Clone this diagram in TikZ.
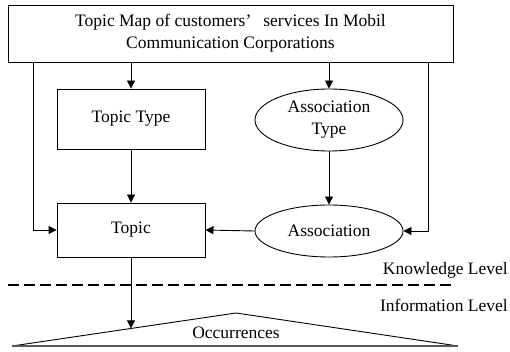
\documentclass[tikz,border=0pt]{standalone}
\usepackage{fontspec}
\setmainfont{Liberation Serif}
\usetikzlibrary{arrows.meta,shapes.geometric,calc}
\begin{document}
\begin{tikzpicture}[x=1pt,y=-1pt,
  every node/.style={font=\fontsize{17.5}{22}\selectfont},
  box/.style={draw,line width=0.9pt,inner sep=0pt},
  oval/.style={draw,ellipse,line width=0.9pt,inner sep=0pt},
  conn/.style={line width=0.9pt,-{Triangle[length=8pt,width=8pt]}},
  level/.style={anchor=east,inner sep=0pt}]
\useasboundingbox (0,0) rectangle (510,352);
% top map box
\node[box,minimum width=445pt,minimum height=57pt,align=center] (map) at (230.5,33.5)
  {Topic Map of customers’\hspace{12pt}services In Mobil\\Communication Corporations};
% types
\node[box,minimum width=148pt,minimum height=60pt] (ttype) at (131,119) {Topic Type};
\node[oval,minimum width=148pt,minimum height=62pt,align=center] (atype) at (329,120)
  {Association\\Type};
% instances
\node[box,minimum width=148pt,minimum height=54pt] (topic) at (131,230) {Topic};
\node[oval,minimum width=148pt,minimum height=52pt] (assoc) at (329,231) {Association};
% connectors
\draw[conn] (map.south -| ttype.north) -- (ttype.north);
\draw[conn] (map.south -| atype.north) -- (atype.north);
\draw[conn] (ttype) -- (topic);
\draw[conn] (atype) -- (assoc);
\draw[conn] (assoc.west) -- (topic.east);
\coordinate (lcorner) at (33,230);
\coordinate (rcorner) at (428,231);
\draw[conn] (map.south -| lcorner) -- (lcorner) -- (topic.west);
\draw[conn] (map.south -| rcorner) -- (rcorner) -- (assoc.east);
% level separator
\coordinate (sepL) at (8,285);
\coordinate (sepR) at (453,285);
\draw[line width=2.6pt,dash pattern=on 11pt off 5pt] (sepL) -- (sepR);
\node[level] (know) at (508,270) {Knowledge Level};
\node[level] (info) at (508,305) {Information Level};
% occurrences
\coordinate (tL) at (12,346);
\coordinate (tT) at (236,313);
\coordinate (tR) at (458,346);
\draw[line width=0.9pt] (tL) -- (tT) -- (tR);
\draw[line width=1.6pt,gray!70!black] (tL) -- (tR);
\node (occ) at (236,333) {Occurrences};
\coordinate (hit) at ($(tL)!0.536!(tT)$);
\draw[conn] (topic.south) -- (topic.south |- hit);
\end{tikzpicture}
\end{document}
